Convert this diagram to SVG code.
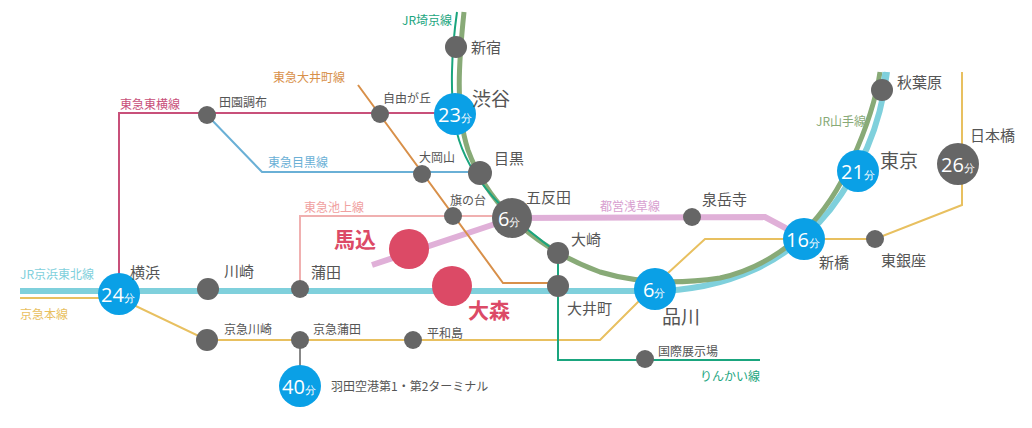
<svg xmlns="http://www.w3.org/2000/svg" width="1032" height="428" viewBox="0 0 1032 428">
<style>
text{font-family:"Noto Sans CJK JP","Noto Sans",sans-serif;fill:#555}
.s{font-size:12px}.m{font-size:15px}.l{font-size:19px}
.g{fill:#666}.b{fill:#0aa0e6}.r{fill:#dc4a66}
.w{fill:#fff;font-family:"Open Sans","Noto Sans",sans-serif}
.ln{fill:none}
</style>
<rect width="1032" height="428" fill="#fff"/>
<g id="connectors" class="ln">
<path d="M372,265 L495,224 M512,218 L765,217 L808,240" stroke="#e0b0d8" stroke-width="6"/>
<path d="M119,293 V113 H456" stroke="#c8507a" stroke-width="2"/>
<path d="M207,115 L262,172 H480" stroke="#6ab0d6" stroke-width="2"/>
<path d="M358,85 L503,283 H558" stroke="#d8904a" stroke-width="2"/>
<path d="M300,289 V216 H512" stroke="#f0b0b0" stroke-width="2"/>
<path d="M20,298 H119 L207,340 H600 L655,285 L705,239 H875 L962,205 V72" stroke="#e8c060" stroke-width="2"/>
<path d="M300,340 V385" stroke="#888" stroke-width="2"/>
<path d="M20,291 H650 C730,291 790,260 830,210 C860,170 880,130 887,72" stroke="#7fd0dc" stroke-width="6"/>
<path d="M464,12 C459,60 455,110 468,150 C490,210 540,250 600,272 C640,284 680,284 720,278 C790,262 830,210 852,160 C868,125 876,100 880,72" stroke="#88aa77" stroke-width="5"/>
<path d="M457,12 C453,40 447,100 459,140 C475,190 520,225 558,253 V360 H760" stroke="#1aa57e" stroke-width="2"/>
<path d="M884,72 L881,90" stroke="#7fd0dc" stroke-width="3"/>
</g>
<g id="linelabels" class="s">
<text x="402" y="25" style="fill:#1aa57e">JR埼京線</text>
<text x="273" y="82" style="fill:#d8904a">東急大井町線</text>
<text x="120" y="109" style="fill:#c8507a">東急東横線</text>
<text x="268" y="167" style="fill:#6ab0d6">東急目黒線</text>
<text x="304" y="212" style="fill:#f0a0a0">東急池上線</text>
<text x="600" y="211" style="fill:#d8a0d0">都営浅草線</text>
<text x="816" y="126" style="fill:#88aa77">JR山手線</text>
<text x="20" y="279" style="fill:#7fd0dc">JR京浜東北線</text>
<text x="20" y="319" style="fill:#e8c060">京急本線</text>
<text x="700" y="381" style="fill:#1aa57e">りんかい線</text>
</g>
<g id="n-shinjuku"><circle class="g" cx="456" cy="47" r="11"/><text class="m" x="471" y="53">新宿</text></g>
<g id="n-shibuya"><circle class="b" cx="455" cy="114" r="21"/><text class="w" x="438" y="122" font-size="20">23<tspan font-size="11">分</tspan></text><text class="l" x="472" y="106">渋谷</text></g>
<g id="n-jiyugaoka"><circle class="g" cx="380" cy="114" r="9"/><text class="s" x="383" y="103">自由が丘</text></g>
<g id="n-denen"><circle class="g" cx="207" cy="115" r="9"/><text class="s" x="219" y="107">田園調布</text></g>
<g id="n-ookayama"><circle class="g" cx="422" cy="174" r="9"/><text class="s" x="419" y="162">大岡山</text></g>
<g id="n-meguro"><circle class="g" cx="480" cy="173" r="12"/><text class="m" x="494" y="164">目黒</text></g>
<g id="n-hatanodai"><circle class="g" cx="453" cy="216" r="9"/><text class="s" x="450" y="205">旗の台</text></g>
<g id="n-gotanda"><circle class="g" cx="512" cy="218" r="20"/><text class="w" x="498" y="226" font-size="20">6<tspan font-size="11">分</tspan></text><text class="m" x="526" y="203">五反田</text></g>
<g id="n-osaki"><circle class="g" cx="558" cy="253" r="11"/><text class="m" x="571" y="245">大崎</text></g>
<g id="n-oimachi"><circle class="g" cx="558" cy="286" r="11"/><text class="m" x="567" y="314">大井町</text></g>
<g id="n-shinagawa"><circle class="b" cx="655" cy="289" r="21"/><text class="w" x="643" y="297" font-size="20">6<tspan font-size="11">分</tspan></text><text class="l" x="662" y="324">品川</text></g>
<g id="n-sengakuji"><circle class="g" cx="692" cy="217" r="9"/><text class="m" x="702" y="205">泉岳寺</text></g>
<g id="n-shimbashi"><circle class="b" cx="804" cy="239" r="21"/><text class="w" x="786" y="247" font-size="20">16<tspan font-size="11">分</tspan></text><text class="m" x="819" y="268">新橋</text></g>
<g id="n-higashiginza"><circle class="g" cx="875" cy="239" r="9"/><text class="m" x="881" y="266">東銀座</text></g>
<g id="n-tokyo"><circle class="b" cx="858" cy="171" r="21"/><text class="w" x="841" y="179" font-size="20">21<tspan font-size="11">分</tspan></text><text class="l" x="880" y="168">東京</text></g>
<g id="n-akihabara"><circle class="g" cx="882" cy="90" r="11"/><text class="m" x="897" y="88">秋葉原</text></g>
<g id="n-nihombashi"><circle class="g" cx="958" cy="164" r="21"/><text class="w" x="941" y="172" font-size="20">26<tspan font-size="11">分</tspan></text><text class="m" x="970" y="141">日本橋</text></g>
<g id="n-kokusai"><circle class="g" cx="645" cy="359" r="9"/><text class="s" x="658" y="356">国際展示場</text></g>
<g id="n-magome"><circle class="r" cx="409" cy="249" r="20"/><text x="334" y="247" font-size="21" font-weight="bold" style="fill:#dc4a66">馬込</text></g>
<g id="n-omori"><circle class="r" cx="452" cy="286" r="20"/><text x="468" y="318" font-size="21" font-weight="bold" style="fill:#dc4a66">大森</text></g>
<g id="n-yokohama"><circle class="b" cx="119" cy="294" r="21"/><text class="w" x="101" y="302" font-size="20">24<tspan font-size="11">分</tspan></text><text class="m" x="130" y="278">横浜</text></g>
<g id="n-kawasaki"><circle class="g" cx="208" cy="289" r="11"/><text class="m" x="224" y="277">川崎</text></g>
<g id="n-kamata"><circle class="g" cx="300" cy="289" r="9"/><text class="m" x="311" y="278">蒲田</text></g>
<g id="n-kkawasaki"><circle class="g" cx="207" cy="340" r="11"/><text class="s" x="224" y="334">京急川崎</text></g>
<g id="n-kkamata"><circle class="g" cx="300" cy="340" r="9"/><text class="s" x="313" y="334">京急蒲田</text></g>
<g id="n-heiwajima"><circle class="g" cx="413" cy="340" r="9"/><text class="s" x="427" y="338">平和島</text></g>
<g id="n-haneda"><circle class="b" cx="300" cy="386" r="21"/><text class="w" x="282" y="394" font-size="20">40<tspan font-size="11">分</tspan></text><text class="s" x="331" y="391" font-size="13">羽田空港第1・第2ターミナル</text></g>
</svg>
